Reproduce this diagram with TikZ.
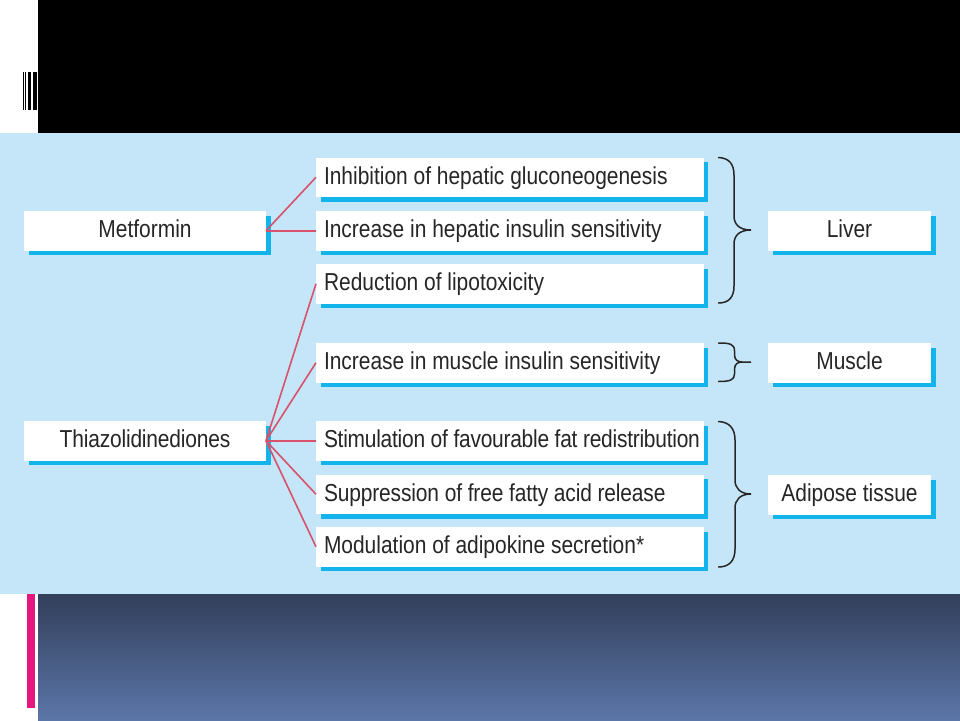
\documentclass[tikz,border=0pt]{standalone}
\usepackage{fontspec}
\setmainfont[FakeStretch=0.855]{Liberation Sans}
\usetikzlibrary{shadows}
\definecolor{panel}{HTML}{C5E6F8}
\definecolor{shade}{HTML}{12B4EA}
\definecolor{link}{HTML}{D9526B}
\definecolor{ink}{HTML}{262626}
\definecolor{pinkbar}{HTML}{E5177F}
\definecolor{gradtop}{HTML}{333F5B}
\definecolor{gradbot}{HTML}{5B76A8}
\newcommand\efftext[1]{\makebox[387.5pt][l]{\hspace*{8pt}#1}}
\tikzset{
  x=1pt,y=-1pt,
  plainbox/.style={fill=white,inner sep=0pt,outer sep=0pt,anchor=north west,text=ink,
    font=\fontsize{24.5}{26}\selectfont,text height=26.5pt,text depth=13pt,
    drop shadow={shadow xshift=4.5pt,shadow yshift=-4.5pt,fill=shade,opacity=1}},
  effectbox/.style={plainbox},
  drugbox/.style={plainbox,minimum width=242pt,align=center},
  organbox/.style={plainbox,minimum width=163pt,align=center},
  linkline/.style={draw=link,line width=1.6pt},
  bracket/.style={draw=ink,line width=1.5pt,line cap=round}
}
\begin{document}
\begin{tikzpicture}
\useasboundingbox (0,0) rectangle (960,720);
\fill[white] (0,0) rectangle (960,720);
\fill[black] (38,0) rectangle (960,133);
\foreach \a/\b in {23/24,25/26.4,28/31,33/37}{\fill[black] (\a,72) rectangle (\b,110);}
\fill[panel] (0,133) rectangle (960,594);
\shade[top color=gradtop,bottom color=gradbot,shading angle=0] (38,594) rectangle (960,720);
\fill[pinkbar] (27,594) rectangle (35,708);

\node[drugbox] (met) at (24,211) {Metformin};
\node[drugbox] (thz) at (24,421) {\addfontfeature{LetterSpace=-0.7}Thiazolidinediones};
\node[effectbox] (e1) at (316,157.5) {\efftext{Inhibition of hepatic gluconeogenesis}};
\node[effectbox] (e2) at (316,211) {\efftext{Increase in hepatic insulin sensitivity}};
\node[effectbox] (e3) at (316,264) {\efftext{Reduction of lipotoxicity}};
\node[effectbox] (e4) at (316,343) {\efftext{Increase in muscle insulin sensitivity}};
\node[effectbox] (e5) at (316,421) {\efftext{\addfontfeature{LetterSpace=-1}Stimulation of favourable fat redistribution}};
\node[effectbox] (e6) at (316,474.5) {\efftext{\addfontfeature{LetterSpace=-0.55}Suppression of free fatty acid release}};
\node[effectbox] (e7) at (316,527) {\efftext{Modulation of adipokine secretion*}};
\node[organbox] (liver) at (768,211) {Liver};
\node[organbox] (muscle) at (768,343) {Muscle};
\node[organbox] (adipose) at (768,475) {Adipose tissue};

\foreach \t in {e1,e2}{\draw[linkline] (met.east) -- (\t.west);}
\foreach \t in {e3,e4,e5,e6,e7}{\draw[linkline] (thz.east) -- (\t.west);}

\draw[bracket] (718.5,157.5) .. controls (729,158) and (734,164) .. (734,175) -- (734,216)
  .. controls (734,224) and (739,230) .. (751,230)
  .. controls (739,230) and (734,236) .. (734,244) -- (734,286)
  .. controls (734,297) and (729,303) .. (718.5,303);
\draw[bracket] (718.5,343) .. controls (730,343) and (734.5,344) .. (734.5,351) -- (734.5,355)
  .. controls (734.5,360) and (738,362) .. (742,362) -- (751,362)
  -- (742,362) .. controls (738,362) and (734.5,364) .. (734.5,369) -- (734.5,374)
  .. controls (734.5,380) and (730,381.5) .. (718.5,381.5);
\draw[bracket] (718.5,421.5) .. controls (729,422) and (735,428) .. (735,440) -- (735,480)
  .. controls (735,488) and (740,494) .. (751,494)
  .. controls (740,494) and (735,500) .. (735,508) -- (735,549)
  .. controls (735,561) and (729,567) .. (718.5,567);
\end{tikzpicture}
\end{document}
